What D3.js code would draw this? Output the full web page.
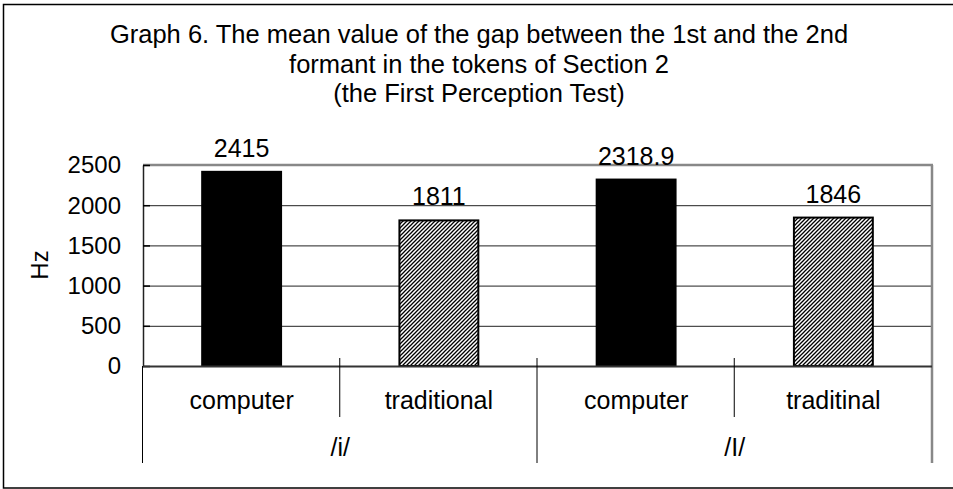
<!DOCTYPE html>
<html>
<head>
<meta charset="utf-8">
<script src="https://cdn.jsdelivr.net/npm/d3@7"></script>
<style>
  html, body { margin: 0; padding: 0; background: #fff; }
  svg { display: block; }
  text { font-family: "Liberation Sans", Arial, sans-serif; fill: #000; }
</style>
</head>
<body>
<svg id="chart" width="953" height="489"></svg>
<script>
// ---- data ----
const titleLines = [
  "Graph 6. The mean value of the gap between the 1st and the 2nd",
  "formant in the tokens of Section 2",
  "(the First Perception Test)"
];
const groups = ["/i/", "/I/"];
const methods = ["computer", "traditional", "computer", "traditinal"];
const groupOfBar = [0, 0, 1, 1];
const values = [2415, 1811, 2318.9, 1846];
const valueLabels = ["2415", "1811", "2318.9", "1846"];
const barStyle = ["solid", "hatch", "solid", "hatch"];
const yTicks = [0, 500, 1000, 1500, 2000, 2500];
const yTitle = "Hz";

(function () {
// ---- layout ----
const svg = d3.select("#chart");
const W = 953, H = 489;
const pLeft = 143, pRight = 932, pTop = 165, pBottom = 366;

const defs = svg.append("defs");
const pat = defs.append("pattern")
  .attr("id", "hatch").attr("patternUnits", "userSpaceOnUse")
  .attr("width", 4).attr("height", 4);
pat.append("rect").attr("width", 4).attr("height", 4).attr("fill", "#fff");
pat.append("path").attr("d", "M-1,1 l2,-2 M0,4 l4,-4 M3,5 l2,-2")
  .attr("stroke", "#000").attr("stroke-width", 1.3);

// outer frame
svg.append("rect").attr("x", 3.5).attr("y", 4.5).attr("width", W + 10).attr("height", 483.5)
  .attr("fill", "none").attr("stroke", "#000").attr("stroke-width", 1.5);

// title
svg.append("g").selectAll("text").data(titleLines).join("text")
  .attr("x", 479).attr("y", (d, i) => 43 + i * 29.5)
  .attr("text-anchor", "middle").attr("font-size", 25.5).text(d => d);

const x = d3.scaleBand().domain(d3.range(values.length)).range([pLeft, pRight]).paddingInner(0).paddingOuter(0);
const y = d3.scaleLinear().domain([0, 2500]).range([pBottom, pTop]);
const bw = x.bandwidth() / 2.5;

// gridlines
svg.append("g").selectAll("line").data(yTicks.filter(t => t > 0 && t < 2500)).join("line")
  .attr("x1", pLeft).attr("x2", pRight).attr("y1", d => y(d) + 0.5).attr("y2", d => y(d) + 0.5)
  .attr("stroke", "#222").attr("stroke-width", 1);

// plot frame (gray top/right)
svg.append("line").attr("x1", pLeft).attr("x2", pRight + 1).attr("y1", y(2500)).attr("y2", y(2500))
  .attr("stroke", "#888").attr("stroke-width", 2.5);
svg.append("line").attr("x1", pRight).attr("x2", pRight).attr("y1", y(2500)).attr("y2", 463)
  .attr("stroke", "#888").attr("stroke-width", 2.5);

// bars
svg.append("g").selectAll("rect").data(values).join("rect")
  .attr("x", (d, i) => x(i) + (x.bandwidth() - bw) / 2)
  .attr("y", d => y(d))
  .attr("width", bw)
  .attr("height", d => y(0) - y(d))
  .attr("fill", (d, i) => barStyle[i] === "solid" ? "#000" : "url(#hatch)")
  .attr("stroke", "#000").attr("stroke-width", 2);

// value labels
svg.append("g").selectAll("text").data(values).join("text")
  .attr("x", (d, i) => x(i) + x.bandwidth() / 2)
  .attr("y", d => y(d) - 15)
  .attr("text-anchor", "middle").attr("font-size", 25)
  .text((d, i) => valueLabels[i]);

// y axis
const yAxis = d3.axisLeft(y).tickValues(yTicks).tickSize(0).tickPadding(22).tickFormat(d3.format("d"));
const ya = svg.append("g").attr("transform", `translate(${pLeft},0)`).call(yAxis);
ya.select(".domain").attr("stroke", "#222").attr("stroke-width", 1.5);
ya.selectAll("text").attr("font-size", 24).attr("font-family", "Liberation Sans, Arial, sans-serif")
  .attr("dy", "0.33em").attr("fill", "#000");
// inner tick marks
svg.append("g").selectAll("line").data(yTicks).join("line")
  .attr("x1", pLeft).attr("x2", pLeft + 7).attr("y1", d => y(d) + 0.5).attr("y2", d => y(d) + 0.5)
  .attr("stroke", "#000").attr("stroke-width", 1.5);

// x axis baseline
svg.append("line").attr("x1", pLeft).attr("x2", pRight).attr("y1", pBottom + 0.5).attr("y2", pBottom + 0.5)
  .attr("stroke", "#333").attr("stroke-width", 2);

// category separators (level 1)
const sep1 = [1, 3];
svg.append("g").selectAll("line").data(sep1).join("line")
  .attr("x1", d => x(d) - 0.5).attr("x2", d => x(d) - 0.5)
  .attr("y1", 358).attr("y2", 417).attr("stroke", "#000").attr("stroke-width", 1);
// group separators (level 2)
svg.append("line").attr("x1", pLeft - 0.5).attr("x2", pLeft - 0.5).attr("y1", pBottom).attr("y2", 463)
  .attr("stroke", "#000").attr("stroke-width", 1);
svg.append("line").attr("x1", x(2) - 0.5).attr("x2", x(2) - 0.5).attr("y1", 358).attr("y2", 463)
  .attr("stroke", "#000").attr("stroke-width", 1);

// category labels
svg.append("g").selectAll("text").data(methods).join("text")
  .attr("x", (d, i) => x(i) + x.bandwidth() / 2).attr("y", 409)
  .attr("text-anchor", "middle").attr("font-size", 25).text(d => d);
// group labels
svg.append("g").selectAll("text").data(groups).join("text")
  .attr("x", (d, g) => {
    const idx = groupOfBar.map((v, i) => v === g ? i : -1).filter(i => i >= 0);
    return (x(idx[0]) + x(idx[idx.length - 1]) + x.bandwidth()) / 2;
  })
  .attr("y", 456).attr("text-anchor", "middle").attr("font-size", 25).text(d => d);

// y title
svg.append("text").attr("transform", "translate(48,265) rotate(-90)")
  .attr("text-anchor", "middle").attr("font-size", 24).text(yTitle);
})();
</script>
</body>
</html>
